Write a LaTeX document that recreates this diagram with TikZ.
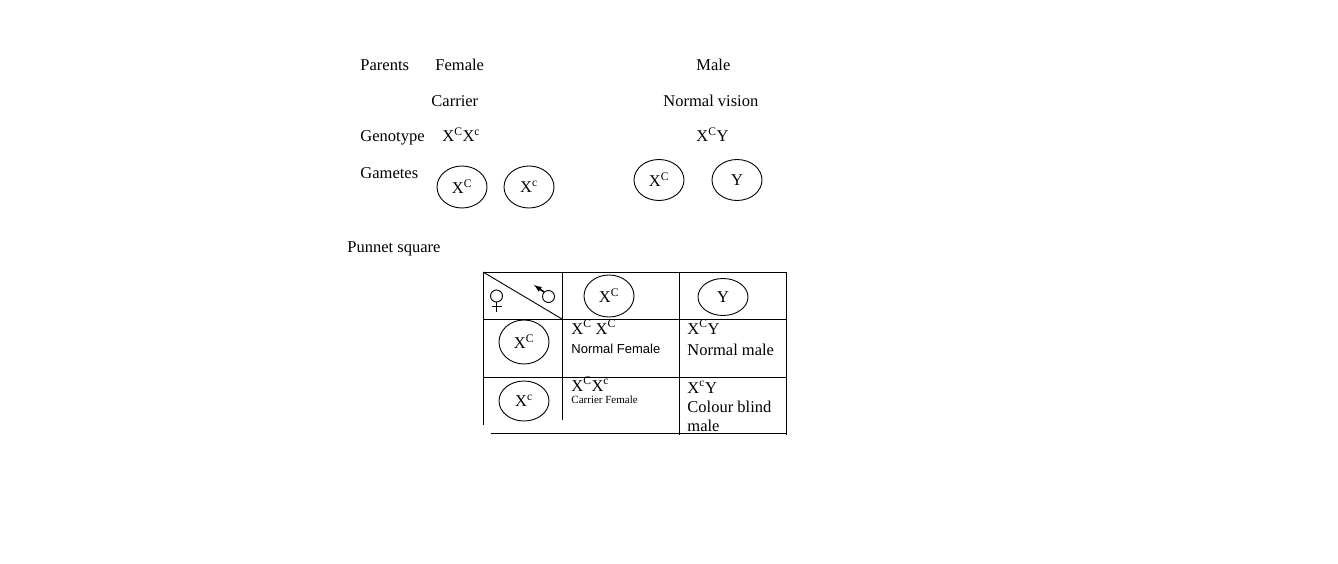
\documentclass[tikz,border=0pt]{standalone}
\usepackage{fontspec}
\setmainfont{Liberation Serif}
\setsansfont{Liberation Sans}
\usetikzlibrary{shapes.geometric}

\begin{document}
\begin{tikzpicture}[x=1pt, y=-1pt, line width=0.9pt,
        lbl/.style={anchor=base west, inner sep=0pt, font=\fontsize{16.5}{19}\selectfont},
        gamete/.style={draw, ellipse, inner sep=0pt, minimum width=50pt, font=\fontsize{16.5}{19}\selectfont}]
    \useasboundingbox (0,0) rectangle (1338,564);
    \node[lbl] (parents) at (360,71) {Parents};
    \node[lbl] (female) at (435,71) {Female};
    \node[lbl] (male) at (696,71) {Male};
    \node[lbl] (carrier) at (431,107) {Carrier};
    \node[lbl] (normal) at (663,107) {Normal vision};
    \node[lbl] (genotype) at (360,142) {Genotype};
    \node[lbl] (fgeno) at (442,142) {X\textsuperscript{C}X\textsuperscript{c}};
    \node[lbl] (mgeno) at (696,142) {X\textsuperscript{C}Y};
    \node[lbl] (gametes) at (360,179) {Gametes};
    \node[gamete, minimum height=42pt] (g1) at (462,187) {X\textsuperscript{C}};
    \node[gamete, minimum height=42pt] (g2) at (529,187) {X\textsuperscript{c}};
    \node[gamete, minimum height=41pt] (g3) at (659,180) {X\textsuperscript{C}};
    \node[gamete, minimum height=41pt] (g4) at (737,180) {Y};
    \node[lbl] (punnet) at (347,252) {Punnet square};
    \draw (483,272) -- (786,272);
    \draw (483,319) -- (786,319);
    \draw (483,377) -- (786,377);
    \draw (491,433) -- (786,433);
    \draw (483,272) -- (483,425);
    \draw (562,272) -- (562,420);
    \draw (679,272) -- (679,435);
    \draw (786,272) -- (786,435);
    \draw (483,272) -- (562,319);
    \draw (496.5,296) circle (6);
    \draw (496.5,302) -- (496.5,312);
    \draw (491.5,306.5) -- (501.5,306.5);
    \draw (548.5,296.5) circle (6);
    \draw[-latex, line width=1.6pt] (544,292) -- (534,285);
    \node[gamete, minimum height=42pt] (hc) at (609,296) {X\textsuperscript{C}};
    \node[gamete, minimum height=37pt] (hy) at (723,297) {Y};
    \node[gamete, minimum height=44pt] (rc) at (524,342) {X\textsuperscript{C}};
    \node[gamete, minimum height=40pt] (rs) at (524,401) {X\textsuperscript{c}};
    \node[lbl] (c11) at (571,334) {X\textsuperscript{C} X\textsuperscript{C}};
    \node[lbl, font=\sffamily\fontsize{13}{15}\selectfont] (c11t) at (571,353) {Normal Female};
    \node[lbl] (c12) at (687,334) {X\textsuperscript{C}Y};
    \node[lbl] (c12t) at (687,355) {Normal male};
    \node[lbl] (c21) at (571,391) {X\textsuperscript{C}X\textsuperscript{c}};
    \node[lbl, font=\fontsize{11}{13}\selectfont] (c21t) at (571,403) {Carrier Female};
    \node[lbl] (c22) at (687,393) {X\textsuperscript{c}Y};
    \node[lbl] (c22t) at (687,412) {Colour blind};
    \node[lbl] (c22m) at (687,431) {male};
\end{tikzpicture}
\end{document}
